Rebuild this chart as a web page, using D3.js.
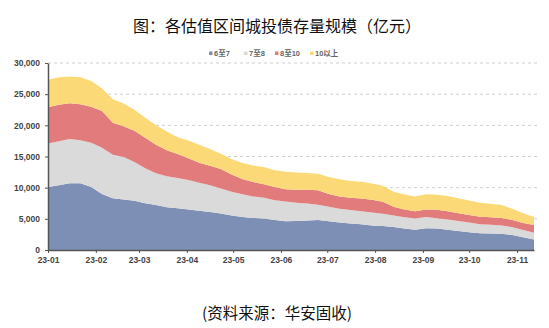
<!DOCTYPE html>
<html>
<head>
<meta charset="utf-8">
<script src="https://cdn.jsdelivr.net/npm/d3@7"></script>
<style>
  html, body { margin: 0; padding: 0; background: #fff; }
  svg { display: block; }
</style>
</head>
<body>
<svg id="chart" width="549" height="328"></svg>
<script>
// Weekly observation dates
const dates = [
  "2023-01-01","2023-01-08","2023-01-15","2023-01-22","2023-01-29",
  "2023-02-05","2023-02-12","2023-02-19","2023-02-26",
  "2023-03-05","2023-03-12","2023-03-19","2023-03-26",
  "2023-04-02","2023-04-09","2023-04-16","2023-04-23","2023-04-30",
  "2023-05-07","2023-05-14","2023-05-21","2023-05-28",
  "2023-06-04","2023-06-11","2023-06-18","2023-06-25",
  "2023-07-02","2023-07-09","2023-07-16","2023-07-23","2023-07-30",
  "2023-08-06","2023-08-13","2023-08-20","2023-08-27",
  "2023-09-03","2023-09-10","2023-09-17","2023-09-24",
  "2023-10-01","2023-10-08","2023-10-15","2023-10-22","2023-10-29",
  "2023-11-05","2023-11-12"
];

// Outstanding balance by valuation-yield bucket (亿元)
const seriesNames = ["6至7", "7至8", "8至10", "10以上"];
const yield6to7 = [10100,10400,10700,10700,10100,9000,8300,8100,7900,7500,7200,6850,6700,6500,6300,6100,5850,5550,5300,5150,5050,4800,4600,4650,4750,4800,4600,4400,4250,4150,3950,3850,3700,3450,3250,3500,3450,3250,3050,2850,2700,2650,2600,2400,2050,1700];
const yield7to8 = [7000,7050,7100,6900,7100,7400,7000,6800,6200,5600,5100,5000,4850,4750,4500,4300,4000,3800,3650,3450,3350,3200,3200,2950,2700,2450,2350,2200,2150,2050,2050,1950,1850,1800,1800,1800,1650,1650,1600,1550,1450,1400,1350,1250,1150,1050];
const yield8to10 = [5800,5850,5750,5800,5800,5900,5100,4950,5050,4900,4600,4150,3850,3450,3200,3100,3150,2750,2450,2300,2150,2100,1950,2050,2200,2350,2050,2000,2000,2050,2050,1950,1400,1250,1150,1200,1350,1300,1250,1200,1200,1200,1200,1150,1150,1250];
const yieldAbove10 = [4400,4400,4300,4300,4100,3600,3800,3650,3350,3200,3100,3000,2700,2850,2900,2700,2450,2500,2550,2650,2750,2700,2800,2800,2700,2650,2700,2750,2650,2700,2600,2550,2400,2400,2400,2450,2400,2450,2400,2350,2250,2150,2050,1800,1550,1300];

const yTicks = [0, 5000, 10000, 15000, 20000, 25000, 30000];
const colors = ["#7d8fb5", "#dadada", "#e27c7c", "#fcd977"];

const parse = d3.timeParse("%Y-%m-%d");
const rows = dates.map((d, i) => ({
  date: parse(d),
  "6至7": yield6to7[i],
  "7至8": yield7to8[i],
  "8至10": yield8to10[i],
  "10以上": yieldAbove10[i]
}));

const svg = d3.select("#chart");
const plot = { left: 48, right: 534, top: 63, bottom: 250 };

const x = d3.scaleTime()
  .domain(d3.extent(rows, d => d.date))
  .range([plot.left, plot.right]);
const y = d3.scaleLinear()
  .domain([0, 30000])
  .range([plot.bottom, plot.top]);

// Title
svg.append("text")
  .attr("x", 277).attr("y", 32)
  .attr("text-anchor", "middle")
  .attr("font-family", "'Noto Sans CJK SC', sans-serif")
  .attr("font-size", 16)
  .attr("fill", "#111")
  .text("图：各估值区间城投债存量规模（亿元）");

// Legend
const legendItems = [
  { name: "6至7", x: 209 },
  { name: "7至8", x: 244 },
  { name: "8至10", x: 275 },
  { name: "10以上", x: 310 }
];
const legend = svg.append("g");
legendItems.forEach((item, i) => {
  legend.append("rect")
    .attr("x", item.x).attr("y", 51.5)
    .attr("width", 3.5).attr("height", 3.5)
    .attr("fill", colors[i]);
  legend.append("text")
    .attr("x", item.x + 5).attr("y", 56)
    .attr("font-family", "'Liberation Sans', 'Noto Sans CJK SC', sans-serif")
    .attr("font-weight", "bold")
    .attr("font-size", 7.5)
    .attr("fill", "#666")
    .text(item.name);
});

// Dashed gridlines
svg.append("g")
  .selectAll("line")
  .data(yTicks.filter(v => v > 0))
  .join("line")
  .attr("x1", plot.left).attr("x2", plot.right + 3)
  .attr("y1", d => y(d)).attr("y2", d => y(d))
  .attr("stroke", "#cfcfcf")
  .attr("stroke-width", 1)
  .attr("stroke-dasharray", "3,3");

// Stacked areas
const stack = d3.stack().keys(seriesNames);
const layers = stack(rows);
const area = d3.area()
  .x(d => x(d.data.date))
  .y0(d => y(d[0]))
  .y1(d => y(d[1]));

svg.append("g")
  .selectAll("path")
  .data(layers)
  .join("path")
  .attr("d", area)
  .attr("fill", (d, i) => colors[i]);

// Y axis
const yAxis = svg.append("g")
  .attr("transform", `translate(${plot.left},0)`)
  .call(d3.axisLeft(y).tickValues(yTicks).tickFormat(d3.format(",")).tickSize(3).tickSizeOuter(0));
yAxis.select(".domain").attr("stroke", "#555").attr("stroke-width", 1.5);
yAxis.selectAll(".tick line").attr("stroke", "#555");
yAxis.selectAll(".tick text")
  .attr("x", -8)
  .attr("font-family", "'Liberation Sans', Arial, sans-serif")
  .attr("font-weight", "bold")
  .attr("font-size", 8.5)
  .attr("fill", "#444");

// X axis
const xAxis = svg.append("g")
  .attr("transform", `translate(0,${plot.bottom})`)
  .call(d3.axisBottom(x)
    .ticks(d3.timeMonth.every(1))
    .tickFormat(d3.timeFormat("%y-%m"))
    .tickSize(3).tickSizeOuter(0));
xAxis.select(".domain").attr("stroke", "#555").attr("stroke-width", 1.5);
xAxis.selectAll(".tick line").attr("stroke", "#555");
xAxis.selectAll(".tick text")
  .attr("y", 7)
  .attr("font-family", "'Liberation Sans', Arial, sans-serif")
  .attr("font-weight", "bold")
  .attr("font-size", 8.5)
  .attr("fill", "#444");

// Source note
svg.append("text")
  .attr("x", 277).attr("y", 319)
  .attr("text-anchor", "middle")
  .attr("font-family", "'Noto Sans CJK SC', sans-serif")
  .attr("font-size", 15.5)
  .attr("fill", "#111")
  .text("(资料来源：华安固收)");
</script>
</body>
</html>
